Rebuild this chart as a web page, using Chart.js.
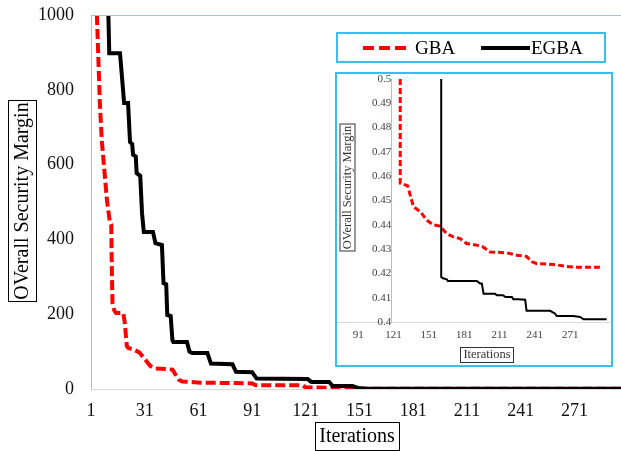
<!DOCTYPE html>
<html>
<head>
<meta charset="utf-8">
<script src="https://cdn.jsdelivr.net/npm/chart.js@4.4.1/dist/chart.umd.min.js"></script>
<style>
  html, body { margin: 0; padding: 0; background: #fff; }
  #wrap { position: relative; width: 621px; height: 451px; overflow: hidden; }
  #main { position: absolute; left: 0; top: 0; }
  #insetBox { position: absolute; left: 335px; top: 72px; width: 274px; height: 291px;
              border: 2px solid #3DBDEF; background: #fff; }
  #legend { position: absolute; left: 336px; top: 32px; width: 266px; height: 27px;
            border: 2px solid #3DBDEF; background: #fff;
            font-family: "Liberation Serif", serif; font-size: 19px; color: #000; }
  #legend .sw { position: absolute; top: 12px; height: 4px; }
  #legend .lb { position: absolute; top: 0; line-height: 27px; }
</style>
</head>
<body>
<div id="wrap">
  <canvas id="main" width="621" height="451"></canvas>
  <div id="legend">
    <div class="sw" style="left:25px;width:43px;background:repeating-linear-gradient(90deg,#FF0000 0 11px,transparent 11px 16px);"></div>
    <div class="lb" style="left:77px;">GBA</div>
    <div class="sw" style="left:143px;width:49px;background:#000;"></div>
    <div class="lb" style="left:193px;">EGBA</div>
  </div>
  <div id="insetBox"><canvas id="inset" width="274" height="291"></canvas></div>
</div>
<script>
// main chart data
var xTicks = [1, 31, 61, 91, 121, 151, 181, 211, 241, 271];
var yTicks = [0, 200, 400, 600, 800, 1000];

var gbaIter = [4.3, 5.9, 7, 9.9, 11.5, 12.3, 12.7, 13, 14, 15, 19, 19.8, 21, 21.7, 25, 28, 31, 34, 37, 46.5, 48, 50, 52, 62, 91, 93, 119, 121, 148, 152, 297];
var gbaVal  = [1000, 770, 666, 505, 447, 440, 300, 230, 210, 203, 203, 180, 115, 110, 105, 98, 80, 62, 55, 52, 40, 25, 20, 17, 15, 10, 10, 4, 3, 0.5, 0.45];

var egbaIter = [10.7, 11.2, 17.2, 19.5, 21.7, 22.8, 24, 24.5, 26, 26.5, 28.5, 29.5, 30.5, 35.6, 37, 40.6, 41.5, 43, 43.6, 45.5, 46.5, 47, 54.6, 56, 57.5, 66, 68, 80, 82, 91, 93.5, 122, 124, 134, 136, 147, 150, 155, 297];
var egbaVal  = [1000, 898, 898, 765, 765, 660, 655, 626, 622, 577, 570, 470, 420, 420, 390, 385, 283, 280, 198, 195, 130, 126, 126, 100, 96, 96, 68, 66, 46, 45, 28, 27, 19, 19, 8, 8, 3, 0.5, 0.4];

// inset data
var insetXTicks = [91, 121, 151, 181, 211, 241, 271];
var insetYTicks = [0.4, 0.41, 0.42, 0.43, 0.44, 0.45, 0.46, 0.47, 0.48, 0.49, 0.5];

var insetGbaIter = [126.7, 126.7, 128, 133, 135, 138, 143.6, 146, 149, 154.7, 160.6, 166, 171.8, 177.6, 183, 191.7, 197, 203, 217, 225.6, 234, 238.5, 242.7, 256.6, 268, 276.7, 299];
var insetGbaVal  = [0.5, 0.4571, 0.457, 0.456, 0.4525, 0.4474, 0.4455, 0.444, 0.442, 0.440, 0.4395, 0.4364, 0.435, 0.4343, 0.4323, 0.4316, 0.4309, 0.4288, 0.4285, 0.4275, 0.427, 0.4248, 0.424, 0.4237, 0.4229, 0.4225, 0.4225];

var insetEgbaIter = [161.5, 161.5, 163, 166.3, 167, 191.7, 194.6, 196, 197.5, 207.3, 208.7, 214, 216, 221.5, 222.7, 227, 232.8, 234, 254, 258, 259.6, 273.6, 279.5, 282.4, 302];
var insetEgbaVal  = [0.5, 0.4185, 0.418, 0.4176, 0.4169, 0.4169, 0.4158, 0.4158, 0.4116, 0.4116, 0.411, 0.411, 0.4103, 0.4103, 0.4094, 0.4094, 0.4092, 0.4046, 0.4046, 0.4035, 0.4025, 0.4025, 0.4021, 0.4011, 0.4011];

function pts(xs, ys) {
  return xs.map(function(x, i) { return {x: x, y: ys[i]}; });
}

// boxed axis titles + top frame line
var extras = {
  id: 'extras',
  afterDraw: function(chart, args, opts) {
    var ctx = chart.ctx;
    var a = chart.chartArea;
    if (opts.topLine) {
      ctx.save();
      ctx.strokeStyle = opts.topLine;
      ctx.lineWidth = 1;
      ctx.beginPath();
      ctx.moveTo(a.left, a.top + 0.5);
      ctx.lineTo(chart.width, a.top + 0.5);
      ctx.stroke();
      ctx.restore();
    }
    (opts.items || []).forEach(function(it) {
      ctx.save();
      ctx.font = it.size + 'px "Liberation Serif"';
      ctx.translate(it.x, it.y);
      if (it.rotate) ctx.rotate(-Math.PI / 2);
      var w = ctx.measureText(it.text).width;
      ctx.fillStyle = it.color;
      ctx.textAlign = 'center';
      ctx.textBaseline = 'middle';
      ctx.fillText(it.text, 0, 1);
      ctx.strokeStyle = it.color;
      ctx.lineWidth = 1;
      var bw = w + 2 * it.padX, bh = it.size + 2 * it.padY;
      ctx.strokeRect(Math.round(-bw / 2) + 0.5, Math.round(-bh / 2) + 0.5, Math.round(bw), Math.round(bh));
      ctx.restore();
    });
  }
};

function noPadY(s) { s.paddingTop = 0; s.paddingBottom = 0; }
function noPadX(s) { s.paddingLeft = 0; s.paddingRight = 0; }

new Chart(document.getElementById('main'), {
  type: 'line',
  data: {
    datasets: [
      { label: 'EGBA', data: pts(egbaIter, egbaVal), borderColor: '#000000', borderWidth: 4,
        pointRadius: 0, tension: 0, order: 0 },
      { label: 'GBA', data: pts(gbaIter, gbaVal), borderColor: '#FF0000', borderWidth: 4,
        borderDash: [10, 4], pointRadius: 0, tension: 0, order: 1 }
    ]
  },
  options: {
    responsive: false,
    animation: false,
    layout: { padding: { top: 15, right: 0, left: 0, bottom: 0 } },
    plugins: {
      legend: { display: false },
      tooltip: { enabled: false },
      extras: {
        topLine: '#9DC3E6',
        items: [
          { text: 'OVerall Security Margin', x: 22, y: 201, rotate: true, size: 20, padX: 2, padY: 4, color: '#000' },
          { text: 'Iterations', x: 357, y: 436, rotate: false, size: 20, padX: 4, padY: 4, color: '#000' }
        ]
      }
    },
    scales: {
      x: {
        type: 'linear', min: 1, max: 297,
        afterBuildTicks: function(s) { s.ticks = xTicks.map(function(v) { return {value: v}; }); },
        afterFit: function(s) { s.height = 62; noPadX(s); },
        grid: { display: false, drawTicks: false },
        border: { display: true, color: '#D9D9D9', width: 1 },
        ticks: { font: { family: 'Liberation Serif', size: 18 }, color: '#111', padding: 11,
                 maxRotation: 0, autoSkip: false, callback: function(v) { return String(v); } }
      },
      y: {
        min: 0, max: 1000,
        afterBuildTicks: function(s) { s.ticks = yTicks.map(function(v) { return {value: v}; }); },
        afterFit: function(s) { s.width = 91; noPadY(s); },
        grid: { display: false, drawTicks: false },
        border: { display: true, color: '#9DC3E6', width: 1 },
        ticks: { font: { family: 'Liberation Serif', size: 18 }, color: '#111', padding: 17,
                 callback: function(v) { return String(v); } }
      }
    }
  },
  plugins: [extras]
});

new Chart(document.getElementById('inset'), {
  type: 'line',
  data: {
    datasets: [
      { label: 'EGBA', data: pts(insetEgbaIter, insetEgbaVal), borderColor: '#000000', borderWidth: 2,
        pointRadius: 0, tension: 0, order: 0 },
      { label: 'GBA', data: pts(insetGbaIter, insetGbaVal), borderColor: '#FF0000', borderWidth: 3,
        borderDash: [6, 3], pointRadius: 0, tension: 0, order: 1 }
    ]
  },
  options: {
    responsive: false,
    animation: false,
    layout: { padding: { top: 5, right: 2, left: 0, bottom: 0 } },
    plugins: {
      legend: { display: false },
      tooltip: { enabled: false },
      extras: {
        items: [
          { text: 'OVerall Security Margin', x: 9.5, y: 113.5, rotate: true, size: 12.5, padX: 2, padY: 1, color: '#333' },
          { text: 'Iterations', x: 150, y: 280, rotate: false, size: 12.5, padX: 3, padY: 1, color: '#333' }
        ]
      }
    },
    scales: {
      x: {
        type: 'linear', min: 73, max: 304,
        afterBuildTicks: function(s) { s.ticks = insetXTicks.map(function(v) { return {value: v}; }); },
        afterFit: function(s) { s.height = 43; noPadX(s); },
        grid: { display: false, drawTicks: false },
        border: { display: true, color: '#D9D9D9', width: 1 },
        ticks: { font: { family: 'Liberation Serif', size: 11 }, color: '#404040', padding: 7,
                 maxRotation: 0, autoSkip: false }
      },
      y: {
        position: { x: 119 },
        min: 0.4, max: 0.5,
        afterBuildTicks: function(s) { s.ticks = insetYTicks.map(function(v) { return {value: v}; }); },
        afterFit: function(s) { noPadY(s); },
        grid: { display: false, drawTicks: false },
        border: { display: true, color: '#9DC3E6', width: 1 },
        ticks: { font: { family: 'Liberation Serif', size: 11 }, color: '#404040', padding: 8,
                 callback: function(v) { return String(+v.toFixed(2)); } }
      }
    }
  },
  plugins: [extras]
});
</script>
</body>
</html>
